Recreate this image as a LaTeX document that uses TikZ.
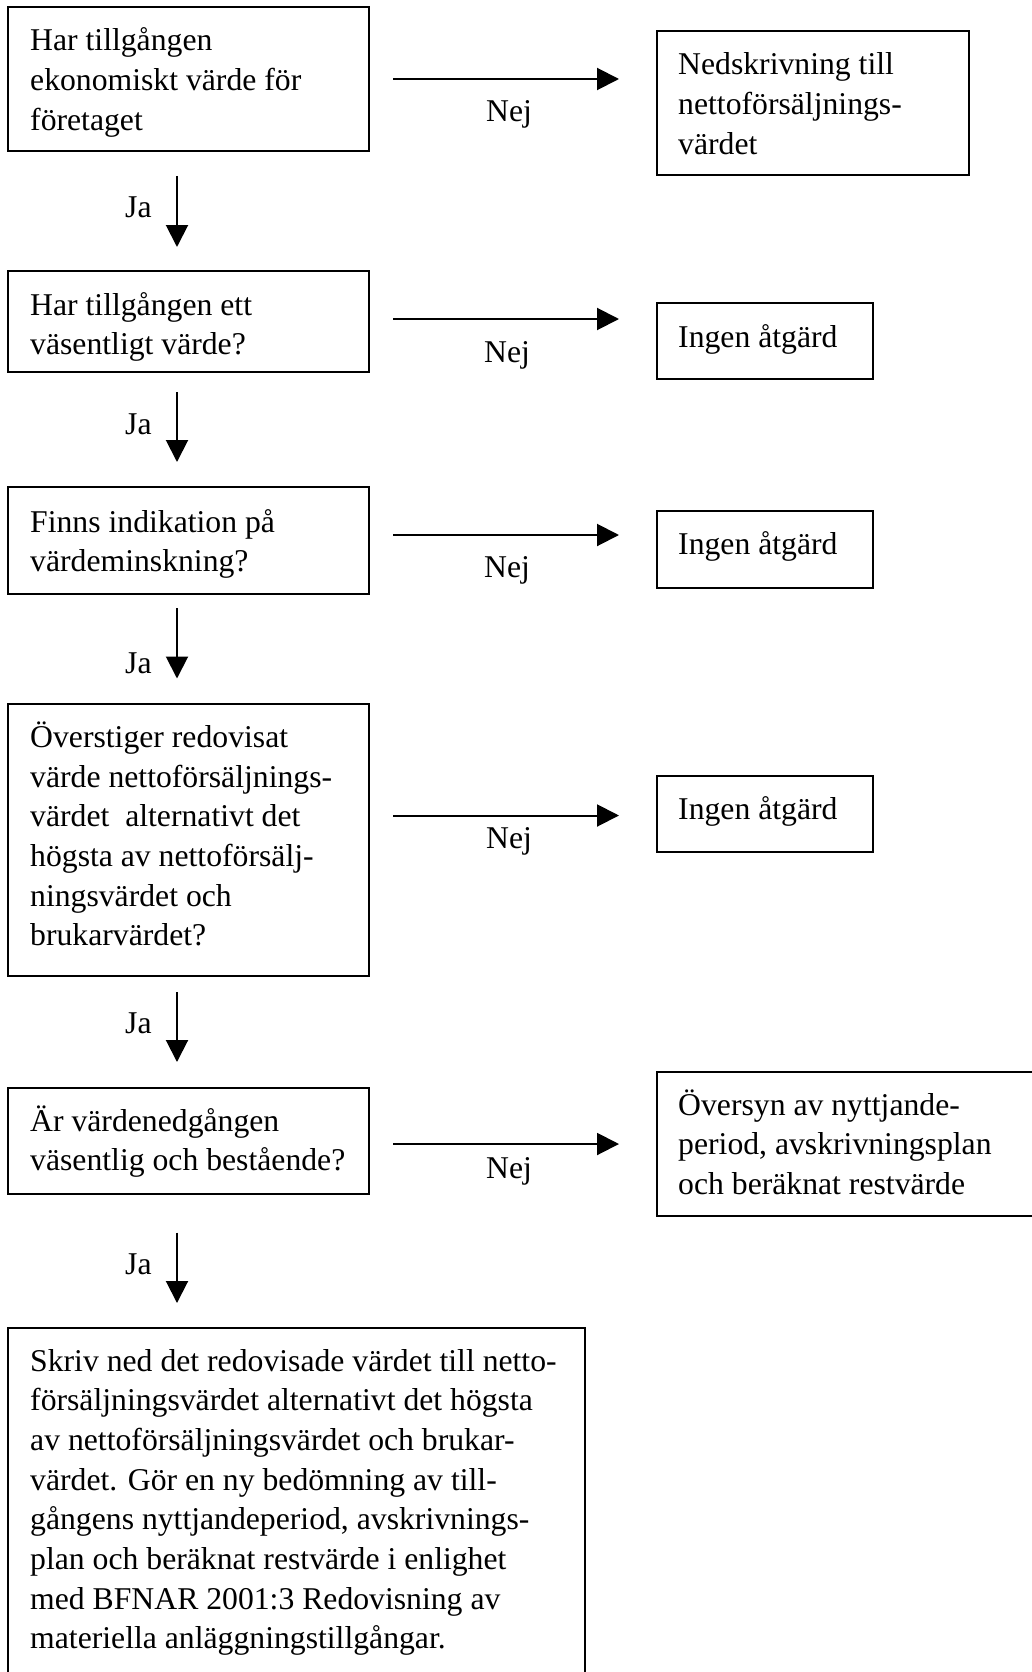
\documentclass[tikz,border=0pt]{standalone}
\usepackage{fontspec}
\setmainfont{Liberation Serif}
\usetikzlibrary{arrows.meta,calc}
\begin{document}
\begin{tikzpicture}[x=1pt,y=-1pt,
  box/.style={draw,line width=2pt,rectangle,inner sep=0pt,outer sep=0pt,anchor=north west},
  txt/.style={anchor=base west,inner sep=0pt,font=\fontsize{31.7}{39.7}\selectfont},
  lbl/.style={inner sep=0pt,font=\fontsize{31.7}{39.7}\selectfont},
  arr/.style={line width=2pt,-{Triangle[length=22pt,width=22pt]}}]
\useasboundingbox (0,0) rectangle (1032,1672);
\fill[white] (0,0) rectangle (1032,1672);

% left boxes
\node[box,minimum width=361pt,minimum height=144.5pt] (b1) at (8,7) {};
\node[box,minimum width=361pt,minimum height=100.5pt] (b2) at (8,271) {};
\node[box,minimum width=361pt,minimum height=106.5pt] (b3) at (8,487) {};
\node[box,minimum width=361pt,minimum height=272.5pt] (b4) at (8,703.5) {};
\node[box,minimum width=361pt,minimum height=106pt] (b5) at (8,1088) {};
\node[box,minimum width=576.5pt,minimum height=400pt] (b6) at (8,1328) {};

% right boxes
\node[box,minimum width=312pt,minimum height=144.5pt] (r1) at (657,31) {};
\node[box,minimum width=216pt,minimum height=75.5pt] (r2) at (657,303) {};
\node[box,minimum width=216pt,minimum height=77pt] (r3) at (657,511) {};
\node[box,minimum width=216pt,minimum height=76.5pt] (r4) at (657,775.5) {};
\node[box,minimum width=400pt,minimum height=144pt] (r5) at (657,1072) {};

% texts
\node[txt] (t1) at (30,50.7) {\begin{tabular}[t]{@{}l@{}}Har tillgången\\ekonomiskt värde för\\företaget\end{tabular}};
\node[txt] (t2) at (30,315) {\begin{tabular}[t]{@{}l@{}}Har tillgången ett\\väsentligt värde?\end{tabular}};
\node[txt] (t3) at (30,532) {\begin{tabular}[t]{@{}l@{}}Finns indikation på\\värdeminskning?\end{tabular}};
\node[txt] (t4) at (30,747.4) {\begin{tabular}[t]{@{}l@{}}Överstiger redovisat\\värde nettoförsäljnings-\\värdet~ alternativt det\\högsta av nettoförsälj-\\ningsvärdet och\\brukarvärdet?\end{tabular}};
\node[txt] (t5) at (30,1131) {\begin{tabular}[t]{@{}l@{}}Är värdenedgången\\väsentlig och bestående?\end{tabular}};
\node[txt] (t6) at (30,1371) {\begin{tabular}[t]{@{}l@{}}Skriv ned det redovisade värdet till netto-\\försäljningsvärdet alternativt det högsta\\av nettoförsäljningsvärdet och brukar-\\värdet. Gör en ny bedömning av till-\\gångens nyttjandeperiod, avskrivnings-\\plan och beräknat restvärde i enlighet\\med BFNAR 2001:3 Redovisning av\\materiella anläggningstillgångar.\end{tabular}};

\node[txt] (s1) at (678,75) {\begin{tabular}[t]{@{}l@{}}Nedskrivning till\\nettoförsäljnings-\\värdet\end{tabular}};
\node[txt] (s2) at (678,347) {Ingen åtgärd};
\node[txt] (s3) at (678,554.6) {Ingen åtgärd};
\node[txt] (s4) at (678,819.6) {Ingen åtgärd};
\node[txt] (s5) at (678,1115) {\begin{tabular}[t]{@{}l@{}}Översyn av nyttjande-\\period, avskrivningsplan\\och beräknat restvärde\end{tabular}};

% Nej arrows
\draw[arr] ($(b1.north east)+(24,72)$) -- ($(r1.north west)+(-38,48)$);
\draw[arr] ($(b2.north east)+(24,48)$) -- ($(r2.north west)+(-38,16)$);
\draw[arr] ($(b3.north east)+(24,48)$) -- ($(r3.north west)+(-38,24)$);
\draw[arr] ($(b4.north east)+(24,112)$) -- ($(r4.north west)+(-38,40)$);
\draw[arr] ($(b5.north east)+(24,56)$) -- ($(r5.north west)+(-38,72)$);

\node[lbl,anchor=base] (n1) at (509,122) {Nej};
\node[lbl,anchor=base] (n2) at (507,362) {Nej};
\node[lbl,anchor=base] (n3) at (507,577) {Nej};
\node[lbl,anchor=base] (n4) at (509,848) {Nej};
\node[lbl,anchor=base] (n5) at (509,1178) {Nej};

% Ja arrows
\draw[arr] ($(b1.south west)+(169,24.5)$) -- ($(b2.north west)+(169,-24)$);
\draw[arr] ($(b2.south west)+(169,20.5)$) -- ($(b3.north west)+(169,-25)$);
\draw[arr] ($(b3.south west)+(169,14.5)$) -- ($(b4.north west)+(169,-25)$);
\draw[arr] ($(b4.south west)+(169,16)$) -- ($(b5.north west)+(169,-26)$);
\draw[arr] ($(b5.south west)+(169,38.5)$) -- ($(b6.north west)+(169,-25)$);

\node[lbl,anchor=base west] (j1) at (125,218) {Ja};
\node[lbl,anchor=base west] (j2) at (125,434) {Ja};
\node[lbl,anchor=base west] (j3) at (125,673.6) {Ja};
\node[lbl,anchor=base west] (j4) at (125,1033.5) {Ja};
\node[lbl,anchor=base west] (j5) at (125,1274) {Ja};
\end{tikzpicture}
\end{document}
